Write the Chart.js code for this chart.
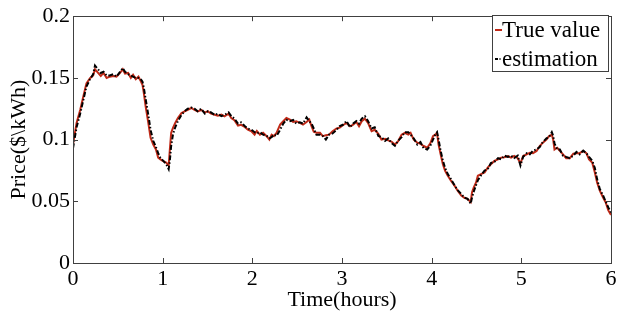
<!DOCTYPE html>
<html>
<head>
<meta charset="utf-8">
<script src="https://cdn.jsdelivr.net/npm/chart.js@4/dist/chart.umd.min.js"></script>
<style>
    html, body { margin: 0; padding: 0; background: #fff; }
    #wrap { width: 623px; height: 312px; }
</style>
</head>
<body>
<div id="wrap"><canvas id="graph"></canvas></div>
<script>
/********
 * Data *
 ********/
const timeHours = [
    0.00, 0.04, 0.08, 0.115, 0.15, 0.19, 0.225, 0.245, 0.28, 0.31, 0.34, 0.375, 0.41, 0.45, 0.485,
    0.525, 0.555, 0.58, 0.615, 0.645, 0.67, 0.70, 0.73, 0.755, 0.775, 0.79, 0.81, 0.84, 0.865, 0.895,
    0.925, 0.95, 0.975, 1.005, 1.04, 1.067, 1.08, 1.095, 1.115, 1.14, 1.17, 1.21, 1.245, 1.28, 1.32,
    1.355, 1.39, 1.43, 1.47, 1.505, 1.54, 1.58, 1.615, 1.655, 1.69, 1.735, 1.765, 1.80, 1.84, 1.875,
    1.915, 1.95, 1.99, 2.025, 2.05, 2.085, 2.12, 2.16, 2.19, 2.215, 2.24, 2.27, 2.31, 2.345, 2.38,
    2.42, 2.455, 2.49, 2.53, 2.565, 2.605, 2.635, 2.66, 2.685, 2.715, 2.755, 2.785, 2.82, 2.855, 2.895,
    2.94, 2.975, 3.01, 3.05, 3.09, 3.125, 3.16, 3.19, 3.22, 3.255, 3.29, 3.33, 3.365, 3.405, 3.44,
    3.48, 3.515, 3.555, 3.59, 3.625, 3.665, 3.70, 3.74, 3.765, 3.80, 3.84, 3.875, 3.91, 3.95, 3.985,
    4.015, 4.04, 4.06, 4.077, 4.10, 4.125, 4.15, 4.18, 4.215, 4.255, 4.29, 4.33, 4.365, 4.40, 4.435,
    4.45, 4.47, 4.495, 4.515, 4.55, 4.59, 4.625, 4.66, 4.70, 4.74, 4.775, 4.81, 4.85, 4.885, 4.92,
    4.96, 4.99, 5.02, 5.06, 5.095, 5.13, 5.17, 5.205, 5.24, 5.28, 5.31, 5.34, 5.355, 5.37, 5.40,
    5.43, 5.465, 5.50, 5.54, 5.58, 5.615, 5.65, 5.69, 5.725, 5.755, 5.79, 5.82, 5.845, 5.875, 5.91,
    5.94, 5.97, 6.00
];

const trueValue = [
    0.096, 0.1135, 0.124, 0.135, 0.1456, 0.1497, 0.152, 0.157, 0.154, 0.1515, 0.154, 0.150, 0.151, 0.1515, 0.151,
    0.154, 0.157, 0.1535, 0.154, 0.150, 0.1525, 0.149, 0.151, 0.1475, 0.1443, 0.1376, 0.127, 0.1135, 0.1015, 0.096,
    0.092, 0.0854, 0.084, 0.0825, 0.0814, 0.079, 0.092, 0.1055, 0.1095, 0.1135, 0.1175, 0.1215, 0.1229, 0.1242, 0.1256,
    0.124, 0.1229, 0.124, 0.122, 0.1229, 0.121, 0.1202, 0.1194, 0.1202, 0.1189, 0.121, 0.1175, 0.1157, 0.1114, 0.112,
    0.1103, 0.108, 0.1068, 0.104, 0.107, 0.104, 0.1055, 0.1028, 0.100, 0.104, 0.1028, 0.1055, 0.1122, 0.1149, 0.1175,
    0.1162, 0.1143, 0.1149, 0.1135, 0.1122, 0.1143, 0.1162, 0.1108, 0.1063, 0.1055, 0.1055, 0.1028, 0.1035, 0.104, 0.1068,
    0.109, 0.1097, 0.1116, 0.1135, 0.1108, 0.1122, 0.1143, 0.1108, 0.1149, 0.117, 0.1135, 0.1068, 0.108, 0.1047, 0.100,
    0.1007, 0.0993, 0.0982, 0.096, 0.0986, 0.104, 0.1055, 0.104, 0.1055, 0.100, 0.0975, 0.0966, 0.0948, 0.0934, 0.097,
    0.1028, 0.104, 0.1055, 0.096, 0.088, 0.080, 0.0747, 0.0707, 0.0667, 0.0627, 0.0586, 0.0546, 0.0528, 0.052, 0.0493,
    0.0573, 0.0613, 0.0653, 0.0707, 0.072, 0.0733, 0.0773, 0.080, 0.0827, 0.084, 0.0854, 0.0857, 0.0867, 0.0854, 0.0867,
    0.0849, 0.0806, 0.0867, 0.088, 0.0894, 0.089, 0.0908, 0.0948, 0.0975, 0.100, 0.1028, 0.104, 0.100, 0.092, 0.0934,
    0.0908, 0.088, 0.0849, 0.0849, 0.0886, 0.089, 0.089, 0.0908, 0.089, 0.084, 0.0814, 0.0733, 0.0653, 0.0586, 0.0533,
    0.0493, 0.0426, 0.039
];

const estimation = [
    0.093, 0.110, 0.121, 0.132, 0.143, 0.149, 0.153, 0.160, 0.157, 0.154, 0.155, 0.152, 0.152, 0.153, 0.151,
    0.155, 0.158, 0.155, 0.153, 0.152, 0.151, 0.150, 0.150, 0.149, 0.147, 0.142, 0.133, 0.120, 0.108, 0.099,
    0.094, 0.089, 0.085, 0.083, 0.080, 0.076, 0.083, 0.095, 0.104, 0.110, 0.115, 0.120, 0.123, 0.125, 0.126,
    0.125, 0.123, 0.125, 0.121, 0.123, 0.122, 0.120, 0.121, 0.119, 0.120, 0.122, 0.119, 0.117, 0.113, 0.114,
    0.111, 0.109, 0.108, 0.106, 0.105, 0.106, 0.104, 0.103, 0.101, 0.102, 0.104, 0.103, 0.108, 0.113, 0.116,
    0.115, 0.116, 0.113, 0.114, 0.113, 0.118, 0.115, 0.113, 0.109, 0.104, 0.104, 0.103, 0.100, 0.104, 0.105,
    0.108, 0.111, 0.112, 0.115, 0.110, 0.113, 0.115, 0.113, 0.117, 0.119, 0.115, 0.109, 0.110, 0.103, 0.102,
    0.099, 0.101, 0.097, 0.095, 0.099, 0.102, 0.106, 0.106, 0.104, 0.101, 0.096, 0.098, 0.093, 0.092, 0.095,
    0.100, 0.104, 0.106, 0.100, 0.091, 0.083, 0.077, 0.072, 0.068, 0.063, 0.059, 0.056, 0.053, 0.052, 0.048,
    0.053, 0.058, 0.063, 0.067, 0.071, 0.075, 0.076, 0.081, 0.082, 0.085, 0.084, 0.087, 0.086, 0.087, 0.085,
    0.087, 0.079, 0.086, 0.089, 0.088, 0.091, 0.092, 0.094, 0.098, 0.101, 0.102, 0.106, 0.103, 0.097, 0.092,
    0.092, 0.087, 0.086, 0.085, 0.087, 0.090, 0.088, 0.091, 0.089, 0.086, 0.083, 0.077, 0.068, 0.060, 0.055,
    0.050, 0.045, 0.041
];

const seriesLabels = ['True value', 'estimation'];
const xTickValues = [0, 1, 2, 3, 4, 5, 6];
const yTickValues = [0, 0.05, 0.1, 0.15, 0.2];

const serifFont = "'Liberation Serif', 'Times New Roman', serif";
const axisColor = '#404040';
const redColor = '#c02a18';
const fontSize = 22;

function toPoints(values) {
    return values.map((v, i) => ({x: timeHours[i], y: v}));
}

/**
 * Draws the MATLAB-like box with inward ticks on all four sides.
 */
const boxPlugin = {
    id: 'boxPlugin',
    afterDatasetsDraw(chart) {
        const {ctx, chartArea: a, scales} = chart;
        ctx.save();
        ctx.strokeStyle = axisColor;
        ctx.lineWidth = 1;
        ctx.beginPath();
        xTickValues.slice(1, -1).forEach(v => {
            const px = Math.round(scales.x.getPixelForValue(v)) + 0.5;
            ctx.moveTo(px, a.bottom); ctx.lineTo(px, a.bottom - 5);
            ctx.moveTo(px, a.top); ctx.lineTo(px, a.top + 5);
        });
        yTickValues.slice(1, -1).forEach(v => {
            const py = Math.round(scales.y.getPixelForValue(v)) + 0.5;
            ctx.moveTo(a.left, py); ctx.lineTo(a.left + 5, py);
            ctx.moveTo(a.right, py); ctx.lineTo(a.right - 5, py);
        });
        ctx.stroke();
        ctx.strokeRect(Math.round(a.left) + 0.5, Math.round(a.top) + 0.5,
            Math.round(a.right - a.left), Math.round(a.bottom - a.top));
        ctx.restore();
    }
};

/**
 * Draws the boxed legend in the top right corner of the plot.
 */
const legendPlugin = {
    id: 'boxLegend',
    afterDraw(chart) {
        const {ctx, chartArea: a} = chart;
        const boxW = 116, boxH = 56;
        const bx = Math.round(a.right) - 3 - boxW, by = Math.round(a.top) - 1;
        ctx.save();
        ctx.fillStyle = '#fff';
        ctx.fillRect(bx, by, boxW, boxH);
        ctx.strokeStyle = axisColor;
        ctx.lineWidth = 1;
        ctx.strokeRect(bx + 0.5, by + 0.5, boxW, boxH);
        ctx.font = '23px ' + serifFont;
        ctx.textBaseline = 'middle';
        ctx.fillStyle = '#000';
        chart.data.datasets.forEach((ds, i) => {
            const ly = by + 15 + i * 29;
            ctx.strokeStyle = ds.borderColor;
            ctx.lineWidth = 2;
            ctx.setLineDash(ds.borderDash ? [3, 1.5, 1, 1.5] : []);
            ctx.beginPath();
            ctx.moveTo(bx + 3, ly);
            ctx.lineTo(bx + 10, ly);
            ctx.stroke();
            ctx.setLineDash([]);
            ctx.fillText(ds.label, bx + 10, ly + 1);
        });
        ctx.restore();
    }
};

const context = document.getElementById('graph').getContext('2d');
const chart = new Chart(context, {
    type: 'line',
    data: {
        datasets: [
            {
                label: seriesLabels[0],
                data: toPoints(trueValue),
                borderColor: redColor,
                borderWidth: 2,
                pointRadius: 0,
                tension: 0,
                fill: false,
                order: 2
            },
            {
                label: seriesLabels[1],
                data: toPoints(estimation),
                borderColor: '#000',
                borderWidth: 2,
                borderDash: [5, 2, 1.5, 2],
                pointRadius: 0,
                tension: 0,
                fill: false,
                order: 1
            }
        ]
    },
    options: {
        responsive: true,
        maintainAspectRatio: false,
        animation: false,
        layout: {padding: {top: 14, right: 12, left: 0, bottom: 0}},
        plugins: {
            legend: {display: false},
            tooltip: {enabled: false}
        },
        scales: {
            x: {
                type: 'linear',
                min: 0,
                max: 6,
                afterFit: s => { s.height = 49; },
                afterBuildTicks: s => { s.ticks = xTickValues.map(v => ({value: v})); },
                grid: {display: false, drawTicks: false},
                border: {display: false},
                ticks: {
                    padding: 3,
                    color: '#000',
                    font: {family: serifFont, size: fontSize},
                    maxRotation: 0,
                    callback: v => String(v)
                },
                title: {
                    display: true,
                    text: 'Time(hours)',
                    color: '#000',
                    font: {family: serifFont, size: fontSize},
                    padding: {top: 0, bottom: -1}
                }
            },
            y: {
                type: 'linear',
                min: 0,
                max: 0.2,
                afterFit: s => { s.width = 73; },
                afterBuildTicks: s => { s.ticks = yTickValues.map(v => ({value: v})); },
                grid: {display: false, drawTicks: false},
                border: {display: false},
                ticks: {
                    padding: 3,
                    color: '#000',
                    font: {family: serifFont, size: fontSize},
                    callback: v => String(+v.toFixed(2))
                },
                title: {
                    display: true,
                    text: 'Price($\\kWh)',
                    color: '#000',
                    font: {family: serifFont, size: fontSize},
                    padding: {top: 6, bottom: 0}
                }
            }
        }
    },
    plugins: [boxPlugin, legendPlugin]
});
</script>
</body>
</html>
